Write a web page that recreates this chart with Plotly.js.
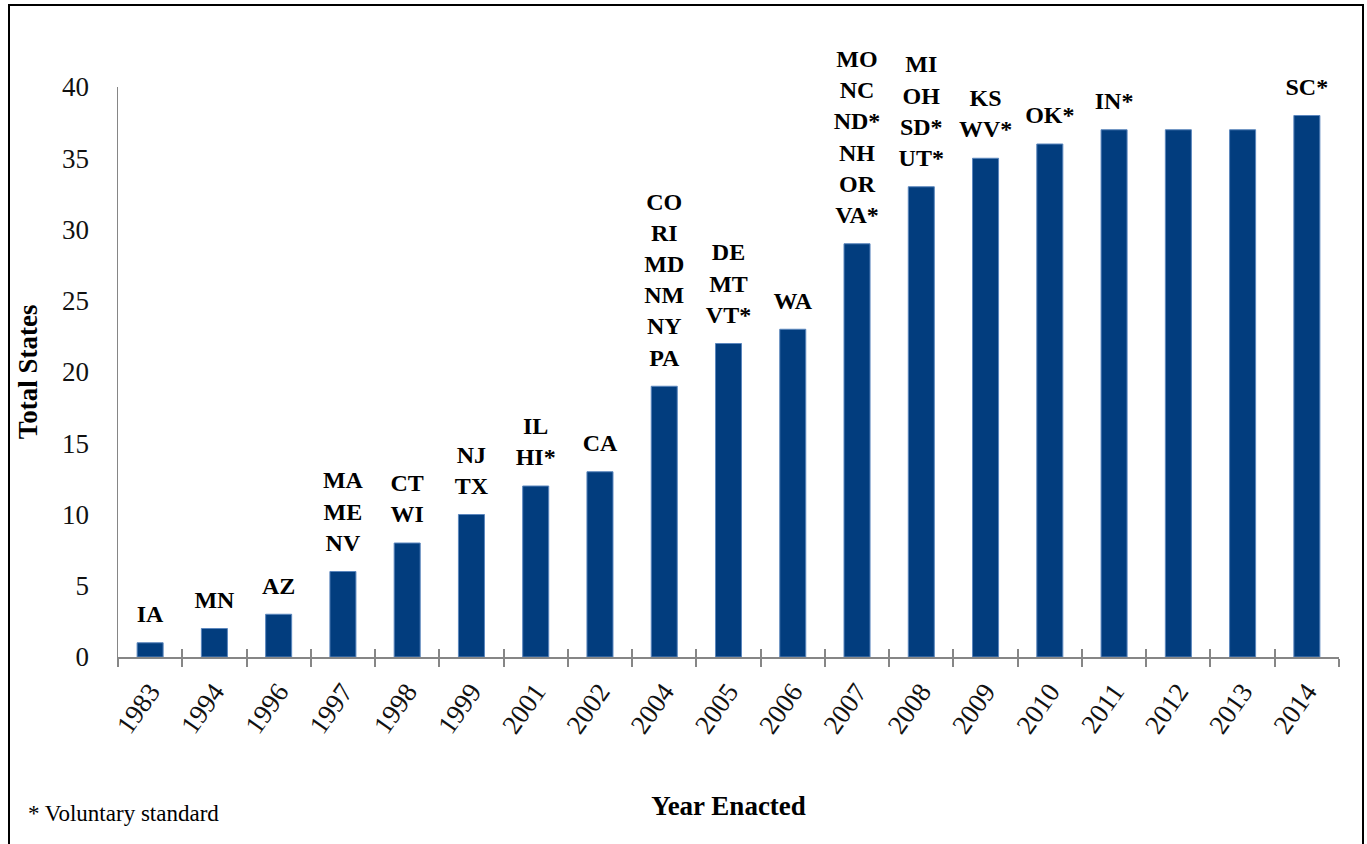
<!DOCTYPE html>
<html>
<head>
<meta charset="utf-8">
<script src="https://cdn.plot.ly/plotly-3.0.1.min.js"></script>
<style>
  html, body { margin: 0; padding: 0; background: #fff; }
  #wrap { position: relative; width: 1367px; height: 844px; overflow: hidden; }
  #chart { width: 1367px; height: 844px; }
  #frame { position: absolute; left: 8px; top: 4px; width: 1352px; height: 860px; border: 2px solid #000; pointer-events: none; }
</style>
</head>
<body>
<div id="wrap">
  <div id="chart"></div>
  <div id="frame"></div>
</div>
<script>
const years = ["1983","1994","1996","1997","1998","1999","2001","2002","2004","2005","2006","2007","2008","2009","2010","2011","2012","2013","2014"];
const totals = [1, 2, 3, 6, 8, 10, 12, 13, 19, 22, 23, 29, 33, 35, 36, 37, 37, 37, 38];
const stateLabels = [
  "IA", "MN", "AZ", "MA<br>ME<br>NV", "CT<br>WI", "NJ<br>TX", "IL<br>HI*", "CA",
  "CO<br>RI<br>MD<br>NM<br>NY<br>PA", "DE<br>MT<br>VT*", "WA",
  "MO<br>NC<br>ND*<br>NH<br>OR<br>VA*", "MI<br>OH<br>SD*<br>UT*", "KS<br>WV*", "OK*", "IN*", "", "", "SC*"
];
const yTitle = "Total States";
const xTitle = "Year Enacted";
const footnote = "* Voluntary standard";

const FONT = "Liberation Serif";
const n = years.length;

const bars = {
  type: "bar",
  x: years,
  y: totals,
  marker: { color: "#023d7e", line: { color: "#5b86bd", width: 1 } },
  hoverinfo: "skip"
};

const labels = {
  type: "scatter",
  mode: "markers+text",
  x: years,
  y: totals,
  text: stateLabels,
  textposition: "top center",
  textfont: { family: FONT, size: 24, color: "#000", weight: "bold" },
  marker: { size: 22, opacity: 0 },
  cliponaxis: false,
  hoverinfo: "skip"
};

// invisible helper trace so the overlaid tick axis (upper half of crossing ticks) is drawn
const ghost = {
  type: "scatter",
  mode: "lines",
  x: [-0.5, n - 0.5],
  y: [0, 0],
  xaxis: "x2",
  yaxis: "y",
  line: { width: 0 },
  hoverinfo: "skip"
};

const layout = {
  width: 1367,
  height: 844,
  margin: { l: 118, r: 28, t: 87, b: 187 },
  paper_bgcolor: "#fff",
  plot_bgcolor: "#fff",
  showlegend: false,
  bargap: 0.595,
  font: { family: FONT, color: "#000" },
  xaxis: {
    type: "category",
    range: [-0.5, n - 0.5],
    showline: true,
    linecolor: "#868686",
    linewidth: 2,
    ticks: "outside",
    ticklen: 8,
    tickwidth: 2,
    tickcolor: "#868686",
    tickson: "boundaries",
    tickangle: -55,
    ticklabelstandoff: 6,
    tickfont: { family: FONT, size: 27, color: "#111" },
    showgrid: false,
    zeroline: false,
    title: { text: xTitle, font: { family: FONT, size: 27, weight: "bold", color: "#000" }, standoff: 58 }
  },
  xaxis2: {
    overlaying: "x",
    anchor: "y",
    range: [-0.5, n - 0.5],
    tick0: -0.5,
    dtick: 1,
    ticks: "inside",
    ticklen: 8,
    tickwidth: 2,
    tickcolor: "#868686",
    showticklabels: false,
    showline: false,
    showgrid: false,
    zeroline: false
  },
  yaxis: {
    range: [0, 40],
    dtick: 5,
    showline: true,
    linecolor: "#868686",
    linewidth: 1.5,
    ticks: "",
    ticklabelstandoff: 22,
    tickfont: { family: FONT, size: 27, color: "#111" },
    showgrid: false,
    zeroline: false,
    title: { text: yTitle, font: { family: FONT, size: 27, weight: "bold", color: "#000" }, standoff: 16 }
  },
  annotations: [{
    text: footnote,
    xref: "paper", yref: "paper",
    x: -0.075, y: -0.274,
    xanchor: "left", yanchor: "middle",
    showarrow: false,
    font: { family: FONT, size: 23, color: "#000" }
  }]
};

Plotly.newPlot("chart", [bars, labels, ghost], layout, { displayModeBar: false, staticPlot: true });
</script>
</body>
</html>
